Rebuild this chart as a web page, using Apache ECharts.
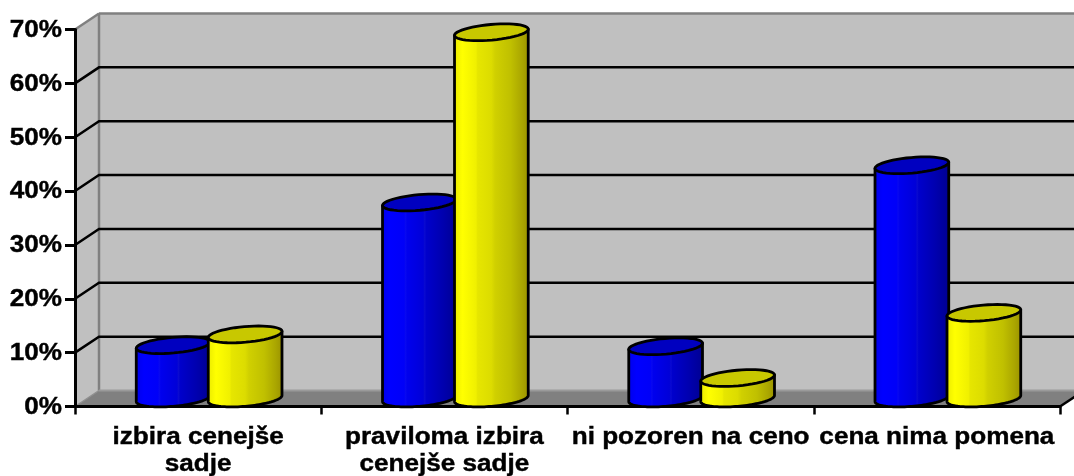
<!DOCTYPE html>
<html><head><meta charset="utf-8">
<style>html,body{margin:0;padding:0;background:#fff}#c{width:1074px;height:476px}</style>
<script src="https://cdn.jsdelivr.net/npm/echarts@6/dist/echarts.min.js"></script>
</head><body><div id="c"></div>
<script>
const categories = ['izbira cenejše\nsadje', 'praviloma izbira\ncenejše sadje', 'ni pozoren na ceno', 'cena nima pomena'];
const seriesBlue = [9.9, 36.4, 9.7, 43.3];
const seriesYellow = [11.9, 68, 3.8, 15.9];
const yTicks = [0, 10, 20, 30, 40, 50, 60, 70];

const DEPTH_X = 24, DEPTH_Y = -16;
const FONT = 'bold 23px "Liberation Sans"';
const STRETCH = 1.135;
const chart = echarts.init(document.getElementById('c'));

function walls(params, api) {
  const a = api.coord([0, 0]), band = api.size([1, 0])[0];
  const x0 = a[0] - band / 2, y0 = a[1], x1 = x0 + band * 4, yt = api.coord([0, 70])[1];
  const poly = (pts, fill) => ({type: 'polygon', shape: {points: pts}, style: {fill: fill, stroke: null}});
  const line = (p, q, c, w) => ({type: 'line', shape: {x1: p[0], y1: p[1], x2: q[0], y2: q[1]}, style: {stroke: c, lineWidth: w}});
  const bx = x0 + DEPTH_X, by = y0 + DEPTH_Y, tby = yt + DEPTH_Y;
  return {type: 'group', children: [
    poly([[bx, tby], [x1 + DEPTH_X, tby], [x1 + DEPTH_X, by], [bx, by]], '#c0c0c0'),
    poly([[x0, yt], [bx, tby], [bx, by], [x0, y0]], '#c0c0c0'),
    poly([[x0, y0], [bx, by], [x1 + DEPTH_X, by], [x1, y0]], '#808080'),
    line([bx, tby], [x1 + DEPTH_X, tby], '#808080', 2.5),
    line([x0, yt], [bx, tby], '#808080', 2.5),
    line([bx, tby], [bx, by], '#808080', 2.5),
    line([x0, y0], [bx, by], '#909090', 1.5),
    line([bx, by], [x1 + DEPTH_X, by], '#9a9a9a', 2),
    line([x1, y0], [x1 + DEPTH_X, by], '#000', 2.5)
  ]};
}
function gridLine(params, api) {
  const v = api.value(0);
  const p = api.coord([0, v]), band = api.size([1, 0])[0];
  const x0 = p[0] - band / 2, y = p[1], x1 = x0 + band * 4;
  return {type: 'polyline', shape: {points: [[x0, y], [x0 + DEPTH_X, y + DEPTH_Y], [x1 + DEPTH_X, y + DEPTH_Y]]},
    style: {stroke: '#000', lineWidth: 2.5, fill: null}};
}
function yLabel(params, api) {
  const v = api.value(0), p = api.coord([0, v]), band = api.size([1, 0])[0];
  return {type: 'text', x: p[0] - band / 2 - 13, y: p[1] + 1, scaleX: STRETCH,
    style: {text: v + '%', font: FONT, fill: '#000', stroke: '#000', lineWidth: 0.4, textAlign: 'right', textVerticalAlign: 'middle'}};
}
function xLabel(params, api) {
  const i = api.value(0), p = api.coord([i, 0]);
  return {type: 'text', x: p[0], y: p[1] + 17.5, scaleX: STRETCH,
    style: {text: categories[i], font: FONT, fill: '#000', stroke: '#000', lineWidth: 0.4, textAlign: 'center', textVerticalAlign: 'top', lineHeight: 27}};
}
const RX = 37, RY = 7.8, TH = 5 * Math.PI / 180, T0 = Math.atan2(RY * Math.sin(TH), RX * Math.cos(TH));
function ep(c, t) {
  return [c[0] + RX * Math.cos(t) * Math.cos(TH) + RY * Math.sin(t) * Math.sin(TH),
          c[1] - RX * Math.cos(t) * Math.sin(TH) + RY * Math.sin(t) * Math.cos(TH)];
}
function ellipsePts(c, from, to) {
  const out = [];
  for (let i = 0; i <= 48; i++) out.push(ep(c, from + (to - from) * i / 48));
  return out;
}
function grad(stops) {
  return {type: 'linear', x: 0, y: 0, x2: 1, y2: 0,
    colorStops: stops.map(s => ({offset: s[0], color: s[1]}))};
}
function cylinder(side, stops, topColor) {
  return function (params, api) {
    const cat = api.value(0), v = api.value(1);
    const base = api.coord([cat, 0]), top = api.coord([cat, v]);
    const off = DEPTH_X / 2 - 1 + side * 36;
    const cb = [base[0] + off, base[1] + DEPTH_Y / 2], ct = [top[0] + off, top[1] + DEPTH_Y / 2];
    const lower = ellipsePts(cb, T0, T0 + Math.PI);
    const pts = lower.concat([ep(ct, T0 + Math.PI), ep(ct, T0)]);
    return {type: 'group', children: [
      {type: 'polygon', shape: {points: pts},
        style: {fill: grad(stops), stroke: '#000', lineWidth: 2.8, lineJoin: 'round'}},
      {type: 'polygon', shape: {points: ellipsePts(ct, 0, 2 * Math.PI)},
        style: {fill: topColor, stroke: '#000', lineWidth: 2.8}}
    ]};
  };
}
const blueStops = [[0, '#0000e8'], [0.12, '#0000ff'], [0.3, '#0000f8'], [0.32, '#0808f0'], [0.34, '#0000ee'],
  [0.55, '#0000d8'], [0.57, '#0a0ad0'], [0.59, '#0000cc'], [0.8, '#0000b0'], [1, '#000090']];
const yellowStops = [[0, '#e8e800'], [0.12, '#ffff00'], [0.3, '#f0f000'], [0.32, '#e6e600'], [0.5, '#dcdc00'],
  [0.55, '#d0d000'], [0.75, '#c0c000'], [0.9, '#aaa600'], [1, '#989000']];

chart.setOption({
  animation: false,
  backgroundColor: '#fff',
  grid: {left: 75, right: 14, top: 29.5, bottom: 69.5, outerBoundsMode: 'none', containLabel: false},
  xAxis: {type: 'category', data: categories, z: 5,
    axisLine: {lineStyle: {color: '#000', width: 3}},
    axisTick: {show: true, alignWithLabel: false, length: 8, lineStyle: {color: '#000', width: 2.5}},
    axisLabel: {show: false}
  },
  yAxis: {type: 'value', min: 0, max: 70, interval: 10, z: 5,
    axisLine: {show: true, lineStyle: {color: '#000', width: 3}},
    axisTick: {show: true, length: 10, lineStyle: {color: '#000', width: 3}},
    splitLine: {show: false},
    axisLabel: {show: false}
  },
  series: [
    {type: 'custom', name: 'walls', z: 1, silent: true, renderItem: walls, data: [[0]], encode: {x: 0}},
    {type: 'custom', name: 'grid', z: 2, silent: true, renderItem: gridLine, data: yTicks.slice(1, 7).map(v => [v]), encode: {y: 0}},
    {type: 'custom', name: 'blue', z: 10, renderItem: cylinder(-1, blueStops, '#0000c0'),
      data: seriesBlue.map((v, i) => [i, v]), encode: {x: 0, y: 1}},
    {type: 'custom', name: 'yellow', z: 11, renderItem: cylinder(1, yellowStops, '#c8c800'),
      data: seriesYellow.map((v, i) => [i, v]), encode: {x: 0, y: 1}},
    {type: 'custom', name: 'yLabels', z: 12, silent: true, renderItem: yLabel, data: yTicks.map(v => [v]), encode: {y: 0}},
    {type: 'custom', name: 'xLabels', z: 12, silent: true, renderItem: xLabel, data: categories.map((c, i) => [i]), encode: {x: 0}}
  ]
});
</script></body></html>
